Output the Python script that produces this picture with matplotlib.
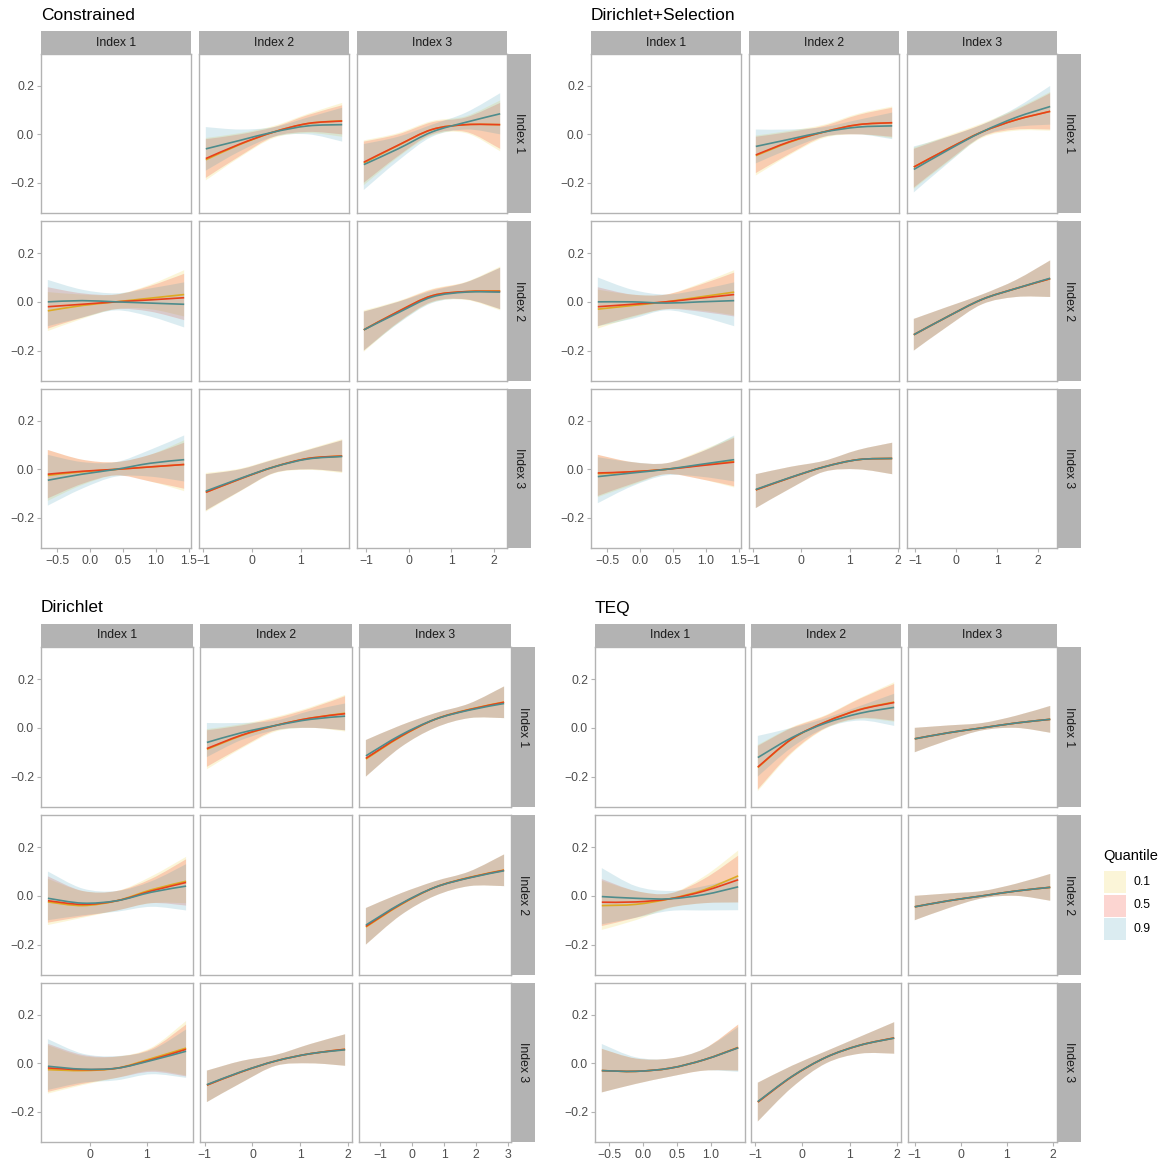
import matplotlib
matplotlib.use("Agg")
import matplotlib.pyplot as plt
from matplotlib.patches import Rectangle, PathPatch
from matplotlib.path import Path

plt.rcParams['font.family'] = ['Liberation Sans', 'DejaVu Sans']

W, H = 1170, 1164
quantiles = ["0.1", "0.5", "0.9"]
line_colors = ["#DDAA22", "#E8401C", "#4E8C8C"]
fill_colors = ["#EBCC2A", "#F21A00", "#3B9AB2"]
facet_labels = ["Index 1", "Index 2", "Index 3"]
titles = ["Constrained", "Dirichlet+Selection", "Dirichlet", "TEQ"]
y_ticks = [-0.2, 0.0, 0.2]

# ---------------- x grids (data ranges per facet column) ----------------
con_x = [[-0.64, -0.12, 0.395, 0.91, 1.43], [-0.94, -0.245, 0.45, 1.145, 1.84], [-1.05, -0.25, 0.545, 1.34, 2.14]]
dsl_x = [[-0.64, -0.12, 0.395, 0.91, 1.43], [-0.94, -0.235, 0.47, 1.175, 1.88], [-1.03, -0.2, 0.63, 1.46, 2.29]]
dir_x = [[-0.74, -0.13, 0.475, 1.08, 1.69], [-0.955, -0.23, 0.49, 1.215, 1.94], [-1.44, -0.36, 0.715, 1.79, 2.87]]
teq_x = [[-0.61, -0.11, 0.395, 0.9, 1.40], [-0.94, -0.22, 0.5, 1.22, 1.94], [-1.0, -0.26, 0.475, 1.21, 1.95]]

con_xticks = [[-0.5, 0.0, 0.5, 1.0, 1.5], [-1, 0, 1], [-1, 0, 1, 2]]
dsl_xticks = [[-0.5, 0.0, 0.5, 1.0, 1.5], [-1, 0, 1, 2], [-1, 0, 1, 2]]
dir_xticks = [[0, 1], [-1, 0, 1, 2], [-1, 0, 1, 2, 3]]
teq_xticks = [[-0.5, 0.0, 0.5, 1.0], [-1, 0, 1, 2], [-1, 0, 1, 2]]

# ---------------- Constrained ----------------
con12_mid = [[-0.105, -0.042, 0.01, 0.045, 0.056], [-0.10, -0.04, 0.01, 0.045, 0.055], [-0.06, -0.025, 0.01, 0.035, 0.04]]
con12_lo = [[-0.19, -0.095, -0.015, 0.005, -0.01], [-0.18, -0.09, -0.01, 0.01, 0.0], [-0.15, -0.07, -0.01, 0.0, -0.03]]
con12_hi = [[-0.015, 0.005, 0.035, 0.085, 0.13], [-0.02, 0.0, 0.03, 0.08, 0.12], [0.03, 0.02, 0.03, 0.07, 0.11]]
con13_mid = [[-0.118, -0.046, 0.02, 0.04, 0.04], [-0.115, -0.045, 0.02, 0.04, 0.04], [-0.125, -0.06, 0.01, 0.05, 0.085]]
con13_lo = [[-0.21, -0.095, -0.005, 0.005, -0.07], [-0.20, -0.09, 0.0, 0.01, -0.06], [-0.23, -0.11, -0.01, 0.02, 0.0]]
con13_hi = [[-0.025, 0.005, 0.055, 0.075, 0.14], [-0.03, 0.0, 0.05, 0.07, 0.13], [-0.04, -0.01, 0.04, 0.09, 0.17]]
con21_mid = [[-0.037, -0.015, 0.0, 0.015, 0.03], [-0.02, -0.01, 0.0, 0.008, 0.017], [0.0, 0.005, 0.0, -0.005, -0.01]]
con21_lo = [[-0.12, -0.07, -0.03, -0.03, -0.06], [-0.11, -0.065, -0.03, -0.04, -0.075], [-0.10, -0.065, -0.035, -0.06, -0.105]]
con21_hi = [[0.04, 0.03, 0.03, 0.07, 0.13], [0.06, 0.035, 0.03, 0.065, 0.115], [0.09, 0.05, 0.035, 0.055, 0.08]]
con23_mid = [[-0.115, -0.04, 0.025, 0.042, 0.045], [-0.115, -0.04, 0.025, 0.042, 0.043], [-0.115, -0.045, 0.02, 0.04, 0.04]]
con23_lo = [[-0.205, -0.088, -0.003, 0.008, -0.035], [-0.2, -0.085, 0.0, 0.01, -0.03], [-0.2, -0.09, -0.005, 0.01, -0.03]]
con23_hi = [[-0.035, 0.003, 0.053, 0.082, 0.145], [-0.04, 0.0, 0.05, 0.08, 0.14], [-0.04, 0.0, 0.045, 0.08, 0.14]]
con31_mid = [[-0.025, -0.01, 0.0, 0.01, 0.02], [-0.02, -0.008, 0.0, 0.01, 0.02], [-0.045, -0.02, 0.0, 0.025, 0.04]]
con31_lo = [[-0.13, -0.065, -0.025, -0.05, -0.09], [-0.12, -0.06, -0.025, -0.05, -0.08], [-0.15, -0.08, -0.03, -0.03, -0.05]]
con31_hi = [[0.08, 0.04, 0.03, 0.06, 0.12], [0.08, 0.04, 0.03, 0.06, 0.11], [0.06, 0.03, 0.03, 0.08, 0.14]]
con32_mid = [[-0.095, -0.04, 0.01, 0.045, 0.055], [-0.095, -0.04, 0.01, 0.045, 0.055], [-0.09, -0.038, 0.01, 0.043, 0.053]]
con32_lo = [[-0.175, -0.092, -0.017, -0.002, -0.015], [-0.17, -0.09, -0.015, 0.0, -0.01], [-0.17, -0.09, -0.015, 0.0, -0.01]]
con32_hi = [[-0.015, 0.003, 0.043, 0.083, 0.125], [-0.02, 0.0, 0.04, 0.08, 0.12], [-0.02, 0.0, 0.04, 0.08, 0.12]]

# ---------------- Dirichlet+Selection ----------------
dsl12_mid = [[-0.088, -0.032, 0.01, 0.04, 0.048], [-0.085, -0.03, 0.01, 0.04, 0.048], [-0.05, -0.02, 0.01, 0.03, 0.035]]
dsl12_lo = [[-0.17, -0.085, -0.015, 0.0, -0.015], [-0.16, -0.08, -0.01, 0.0, -0.01], [-0.12, -0.06, -0.01, 0.0, -0.02]]
dsl12_hi = [[-0.005, 0.015, 0.04, 0.085, 0.115], [-0.01, 0.01, 0.035, 0.08, 0.11], [0.02, 0.02, 0.03, 0.06, 0.09]]
dsl13_mid = [[-0.135, -0.06, 0.01, 0.06, 0.095], [-0.135, -0.06, 0.01, 0.06, 0.095], [-0.145, -0.065, 0.01, 0.07, 0.115]]
dsl13_lo = [[-0.225, -0.115, -0.015, 0.015, 0.015], [-0.22, -0.11, -0.01, 0.02, 0.02], [-0.24, -0.12, -0.01, 0.03, 0.04]]
dsl13_hi = [[-0.055, -0.005, 0.045, 0.105, 0.175], [-0.06, -0.01, 0.04, 0.1, 0.17], [-0.05, -0.01, 0.04, 0.11, 0.2]]
dsl21_mid = [[-0.03, -0.015, 0.0, 0.02, 0.04], [-0.02, -0.01, 0.0, 0.015, 0.03], [0.0, 0.0, -0.005, 0.0, 0.005]]
dsl21_lo = [[-0.11, -0.065, -0.03, -0.035, -0.055], [-0.1, -0.06, -0.03, -0.04, -0.06], [-0.1, -0.07, -0.035, -0.06, -0.1]]
dsl21_hi = [[0.05, 0.03, 0.03, 0.075, 0.13], [0.06, 0.03, 0.03, 0.07, 0.12], [0.1, 0.05, 0.03, 0.05, 0.08]]
dsl23_mid = [[-0.135, -0.06, 0.01, 0.055, 0.095], [-0.135, -0.06, 0.01, 0.055, 0.095], [-0.135, -0.06, 0.01, 0.055, 0.097]]
dsl23_lo = [[-0.2, -0.1, -0.01, 0.02, 0.02], [-0.2, -0.1, -0.01, 0.02, 0.02], [-0.2, -0.1, -0.01, 0.02, 0.02]]
dsl23_hi = [[-0.07, -0.02, 0.03, 0.09, 0.17], [-0.07, -0.02, 0.03, 0.09, 0.17], [-0.07, -0.02, 0.03, 0.09, 0.17]]
dsl31_mid = [[-0.018, -0.01, 0.0, 0.017, 0.033], [-0.015, -0.01, 0.0, 0.015, 0.03], [-0.03, -0.015, 0.0, 0.02, 0.04]]
dsl31_lo = [[-0.115, -0.065, -0.02, -0.04, -0.075], [-0.11, -0.06, -0.02, -0.04, -0.07], [-0.14, -0.07, -0.025, -0.03, -0.05]]
dsl31_hi = [[0.06, 0.03, 0.025, 0.075, 0.135], [0.06, 0.03, 0.025, 0.07, 0.13], [0.05, 0.03, 0.025, 0.07, 0.14]]
dsl32_mid = [[-0.085, -0.035, 0.01, 0.04, 0.045], [-0.085, -0.035, 0.01, 0.04, 0.045], [-0.083, -0.034, 0.01, 0.04, 0.045]]
dsl32_lo = [[-0.16, -0.08, -0.01, 0.0, -0.02], [-0.16, -0.08, -0.01, 0.0, -0.02], [-0.16, -0.08, -0.01, 0.0, -0.02]]
dsl32_hi = [[-0.02, 0.01, 0.035, 0.08, 0.11], [-0.02, 0.01, 0.035, 0.08, 0.11], [-0.02, 0.01, 0.035, 0.08, 0.11]]

# ---------------- Dirichlet ----------------
dir12_mid = [[-0.088, -0.032, 0.01, 0.04, 0.06], [-0.085, -0.03, 0.01, 0.04, 0.058], [-0.06, -0.02, 0.01, 0.035, 0.048]]
dir12_lo = [[-0.17, -0.085, -0.015, 0.0, -0.015], [-0.16, -0.08, -0.01, 0.0, -0.01], [-0.12, -0.05, -0.01, 0.0, -0.01]]
dir12_hi = [[-0.005, 0.015, 0.045, 0.085, 0.135], [-0.01, 0.01, 0.04, 0.08, 0.13], [0.02, 0.02, 0.03, 0.07, 0.1]]
dir13_mid = [[-0.128, -0.037, 0.035, 0.076, 0.106], [-0.125, -0.035, 0.035, 0.075, 0.105], [-0.115, -0.03, 0.035, 0.073, 0.1]]
dir13_lo = [[-0.2, -0.08, 0.0, 0.04, 0.04], [-0.2, -0.08, 0.0, 0.04, 0.04], [-0.2, -0.08, 0.0, 0.04, 0.04]]
dir13_hi = [[-0.05, 0.01, 0.06, 0.1, 0.17], [-0.05, 0.01, 0.06, 0.1, 0.17], [-0.05, 0.01, 0.06, 0.1, 0.17]]
dir21_mid = [[-0.025, -0.04, -0.02, 0.025, 0.06], [-0.02, -0.035, -0.02, 0.02, 0.055], [-0.01, -0.03, -0.02, 0.015, 0.04]]
dir21_lo = [[-0.12, -0.09, -0.06, -0.03, -0.03], [-0.11, -0.085, -0.06, -0.03, -0.04], [-0.1, -0.08, -0.065, -0.045, -0.06]]
dir21_hi = [[0.07, 0.02, 0.02, 0.08, 0.16], [0.08, 0.02, 0.02, 0.07, 0.15], [0.1, 0.03, 0.02, 0.06, 0.13]]
dir23_mid = [[-0.128, -0.037, 0.035, 0.076, 0.106], [-0.125, -0.035, 0.035, 0.075, 0.105], [-0.12, -0.033, 0.035, 0.074, 0.103]]
dir23_lo = [[-0.2, -0.08, 0.0, 0.04, 0.04], [-0.2, -0.08, 0.0, 0.04, 0.04], [-0.2, -0.08, 0.0, 0.04, 0.04]]
dir23_hi = [[-0.05, 0.01, 0.06, 0.1, 0.17], [-0.05, 0.01, 0.06, 0.1, 0.17], [-0.05, 0.01, 0.06, 0.1, 0.17]]
dir31_mid = [[-0.026, -0.03, -0.02, 0.02, 0.063], [-0.019, -0.026, -0.02, 0.015, 0.058], [-0.012, -0.024, -0.02, 0.012, 0.05]]
dir31_lo = [[-0.125, -0.09, -0.06, -0.03, -0.05], [-0.118, -0.085, -0.06, -0.035, -0.054], [-0.11, -0.08, -0.07, -0.045, -0.06]]
dir31_hi = [[0.075, 0.03, 0.028, 0.065, 0.175], [0.081, 0.035, 0.028, 0.06, 0.16], [0.10, 0.04, 0.03, 0.055, 0.14]]
dir32_mid = [[-0.09, -0.035, 0.01, 0.04, 0.058], [-0.09, -0.035, 0.01, 0.04, 0.058], [-0.088, -0.034, 0.01, 0.04, 0.056]]
dir32_lo = [[-0.16, -0.08, -0.01, 0.0, -0.01], [-0.16, -0.08, -0.01, 0.0, -0.01], [-0.16, -0.08, -0.01, 0.0, -0.01]]
dir32_hi = [[-0.03, 0.01, 0.035, 0.08, 0.12], [-0.03, 0.01, 0.035, 0.08, 0.12], [-0.03, 0.01, 0.035, 0.08, 0.12]]

# ---------------- TEQ ----------------
teq12_mid = [[-0.163, -0.046, 0.025, 0.076, 0.106], [-0.161, -0.045, 0.025, 0.075, 0.104], [-0.122, -0.04, 0.02, 0.06, 0.084]]
teq12_lo = [[-0.26, -0.105, -0.003, 0.037, 0.025], [-0.253, -0.1, 0.0, 0.04, 0.029], [-0.2, -0.08, 0.0, 0.03, 0.008]]
teq12_hi = [[-0.07, 0.003, 0.053, 0.123, 0.187], [-0.074, 0.0, 0.05, 0.12, 0.18], [-0.033, 0.0, 0.04, 0.09, 0.14]]
teq13_mid = [[-0.045, -0.02, 0.0, 0.02, 0.035], [-0.045, -0.02, 0.0, 0.02, 0.035], [-0.045, -0.02, 0.0, 0.02, 0.035]]
teq13_lo = [[-0.1, -0.05, -0.01, 0.0, -0.02], [-0.1, -0.05, -0.01, 0.0, -0.02], [-0.1, -0.05, -0.01, 0.0, -0.02]]
teq13_hi = [[0.0, 0.01, 0.02, 0.05, 0.09], [0.0, 0.01, 0.02, 0.05, 0.09], [0.0, 0.01, 0.02, 0.05, 0.09]]
teq21_mid = [[-0.04, -0.035, -0.012, 0.025, 0.082], [-0.026, -0.025, -0.012, 0.02, 0.066], [-0.003, -0.01, -0.012, 0.005, 0.037]]
teq21_lo = [[-0.14, -0.1, -0.05, -0.03, -0.027], [-0.124, -0.09, -0.048, -0.03, -0.027], [-0.117, -0.09, -0.062, -0.06, -0.059]]
teq21_hi = [[0.062, 0.02, 0.01, 0.08, 0.186], [0.069, 0.02, 0.01, 0.07, 0.165], [0.114, 0.04, 0.02, 0.04, 0.076]]
teq23_mid = [[-0.045, -0.02, 0.0, 0.02, 0.035], [-0.045, -0.02, 0.0, 0.02, 0.035], [-0.045, -0.02, 0.0, 0.02, 0.035]]
teq23_lo = [[-0.1, -0.05, -0.01, 0.0, -0.02], [-0.1, -0.05, -0.01, 0.0, -0.02], [-0.1, -0.05, -0.01, 0.0, -0.02]]
teq23_hi = [[0.0, 0.01, 0.02, 0.05, 0.09], [0.0, 0.01, 0.02, 0.05, 0.09], [0.0, 0.01, 0.02, 0.05, 0.09]]
teq31_mid = [[-0.03, -0.033, -0.02, 0.015, 0.066], [-0.03, -0.033, -0.02, 0.015, 0.065], [-0.03, -0.033, -0.02, 0.015, 0.064]]
teq31_lo = [[-0.12, -0.085, -0.055, -0.03, -0.03], [-0.12, -0.085, -0.055, -0.03, -0.03], [-0.12, -0.085, -0.055, -0.03, -0.035]]
teq31_hi = [[0.06, 0.02, 0.02, 0.06, 0.16], [0.06, 0.02, 0.02, 0.06, 0.16], [0.08, 0.025, 0.02, 0.06, 0.15]]
teq32_mid = [[-0.16, -0.055, 0.025, 0.075, 0.105], [-0.16, -0.055, 0.025, 0.075, 0.105], [-0.158, -0.054, 0.025, 0.075, 0.104]]
teq32_lo = [[-0.24, -0.1, 0.0, 0.04, 0.04], [-0.24, -0.1, 0.0, 0.04, 0.04], [-0.24, -0.1, 0.0, 0.04, 0.04]]
teq32_hi = [[-0.08, -0.01, 0.05, 0.11, 0.17], [-0.08, -0.01, 0.05, 0.11, 0.17], [-0.08, -0.01, 0.05, 0.11, 0.17]]

# ---------------- assemble ----------------
def panels(prefix):
    g = globals()
    out = {}
    for r in range(3):
        for c in range(3):
            if r == c:
                continue
            k = f"{prefix}{r+1}{c+1}"
            out[(r, c)] = (g[k + "_mid"], g[k + "_lo"], g[k + "_hi"])
    return out

blocks = [
    dict(title=titles[0], x=con_x, xt=con_xticks, data=panels("con"),
         cols=[(41, 191), (199, 349), (357, 507)], strip=(507, 531), top=31,
         rows=[(54, 213), (221, 381), (389, 548)]),
    dict(title=titles[1], x=dsl_x, xt=dsl_xticks, data=panels("dsl"),
         cols=[(591, 741), (749, 899), (907, 1057)], strip=(1057, 1081), top=31,
         rows=[(54, 213), (221, 381), (389, 548)]),
    dict(title=titles[2], x=dir_x, xt=dir_xticks, data=panels("dir"),
         cols=[(41, 193), (200, 352), (359, 511)], strip=(511, 535), top=624,
         rows=[(647, 807), (815, 975), (983, 1142)]),
    dict(title=titles[3], x=teq_x, xt=teq_xticks, data=panels("teq"),
         cols=[(595, 745), (751, 901), (908, 1057)], strip=(1057, 1081), top=624,
         rows=[(647, 807), (815, 975), (983, 1142)]),
]


def smooth_segments(xs, ys):
    """Vertices/codes of a smooth (Catmull-Rom style) Bezier path through the given points."""
    n = len(xs)
    pts = list(zip(xs, ys))
    verts = [pts[0]]
    codes = []
    for i in range(n - 1):
        p0 = pts[i - 1] if i > 0 else pts[i]
        p1 = pts[i]
        p2 = pts[i + 1]
        p3 = pts[i + 2] if i + 2 < n else pts[i + 1]
        c1 = (p1[0] + (p2[0] - p0[0]) / 6.0, p1[1] + (p2[1] - p0[1]) / 6.0)
        c2 = (p2[0] - (p3[0] - p1[0]) / 6.0, p2[1] - (p3[1] - p1[1]) / 6.0)
        verts += [c1, c2, p2]
        codes += [Path.CURVE4] * 3
    return verts, codes


def smooth_line(ax, xs, ys, **kw):
    v, c = smooth_segments(xs, ys)
    path = Path(v, [Path.MOVETO] + c)
    ax.add_patch(PathPatch(path, fill=False, **kw))


def smooth_band(ax, xs, lo, hi, **kw):
    vu, cu = smooth_segments(xs, hi)
    vl, cl = smooth_segments(xs[::-1], lo[::-1])
    verts = vu + [vl[0]] + vl[1:] + [vu[0]]
    codes = [Path.MOVETO] + cu + [Path.LINETO] + cl + [Path.CLOSEPOLY]
    ax.add_patch(PathPatch(Path(verts, codes), lw=0, **kw))


fig = plt.figure(figsize=(W / 100, H / 100), dpi=100)
fig.patch.set_facecolor("white")

def rect(x0, y0, x1, y1):
    return [x0 / W, 1 - y1 / H, (x1 - x0) / W, (y1 - y0) / H]

STRIP = "#B3B3B3"
BORDER = "#B3B3B3"
TXT = "#4D4D4D"
YLIM = (-0.325, 0.332)

def fmt(v, dec):
    s = f"{v:.1f}" if dec else f"{int(round(v))}"
    return s.replace("-", "\u2212")

for b in blocks:
    fig.text(b["cols"][0][0] / W, 1 - (b["top"] - 16) / H, b["title"], fontsize=12.5, color="black",
             ha="left", va="center")
    for c, (cx0, cx1) in enumerate(b["cols"]):
        sa = fig.add_axes(rect(cx0, b["top"], cx1, b["rows"][0][0]))
        sa.add_patch(Rectangle((0, 0), 1, 1, transform=sa.transAxes, color=STRIP, lw=0))
        sa.set_axis_off()
        sa.text(0.5, 0.5, facet_labels[c], ha="center", va="center", fontsize=8.8, color="#1A1A1A",
                transform=sa.transAxes)
    for r, (ry0, ry1) in enumerate(b["rows"]):
        sa = fig.add_axes(rect(b["strip"][0], ry0, b["strip"][1], ry1))
        sa.add_patch(Rectangle((0, 0), 1, 1, transform=sa.transAxes, color=STRIP, lw=0))
        sa.set_axis_off()
        sa.text(0.5, 0.5, facet_labels[r], ha="center", va="center", rotation=-90, fontsize=8.8,
                color="#1A1A1A", transform=sa.transAxes)
        for c, (cx0, cx1) in enumerate(b["cols"]):
            ax = fig.add_axes(rect(cx0, ry0, cx1, ry1))
            xs = b["x"][c]
            span = xs[-1] - xs[0]
            ax.set_xlim(xs[0] - 0.05 * span, xs[-1] + 0.05 * span)
            ax.set_ylim(*YLIM)
            if (r, c) in b["data"]:
                mid, lo, hi = b["data"][(r, c)]
                for q in range(3):
                    smooth_band(ax, xs, lo[q], hi[q], facecolor=fill_colors[q], alpha=0.18)
                for q in range(3):
                    smooth_line(ax, xs, mid[q], edgecolor=line_colors[q], lw=1.2)
            for s in ax.spines.values():
                s.set_color(BORDER)
                s.set_linewidth(1.0)
            ax.set_xticks(b["xt"][c])
            ax.set_yticks(y_ticks)
            ax.tick_params(axis="both", length=3, width=0.8, color=BORDER, labelcolor=TXT,
                           labelsize=8.8, pad=2)
            dec = any(abs(t - round(t)) > 1e-9 for t in b["xt"][c])
            if r == 2:
                ax.set_xticklabels([fmt(t, dec) for t in b["xt"][c]])
            else:
                ax.tick_params(axis="x", length=0, labelbottom=False)
            if c == 0:
                ax.set_yticklabels([fmt(t, True) for t in y_ticks])
            else:
                ax.tick_params(axis="y", length=0, labelleft=False)

# legend
fig.text(1103 / W, 1 - 856 / H, "Quantile", fontsize=10.5, ha="left", va="center", color="black")
for i, q in enumerate(quantiles):
    y0 = 871 + i * 23.5
    la = fig.add_axes(rect(1104, y0, 1126, y0 + 22))
    la.set_xlim(0, 1)
    la.set_ylim(0, 1)
    la.add_patch(Rectangle((0, 0), 1, 1, color=fill_colors[i], alpha=0.18, lw=0))
    la.set_axis_off()
    fig.text(1134 / W, 1 - (y0 + 11) / H, q, fontsize=8.8, ha="left", va="center", color="black")

fig.savefig("out.png", dpi=100, facecolor="white")
